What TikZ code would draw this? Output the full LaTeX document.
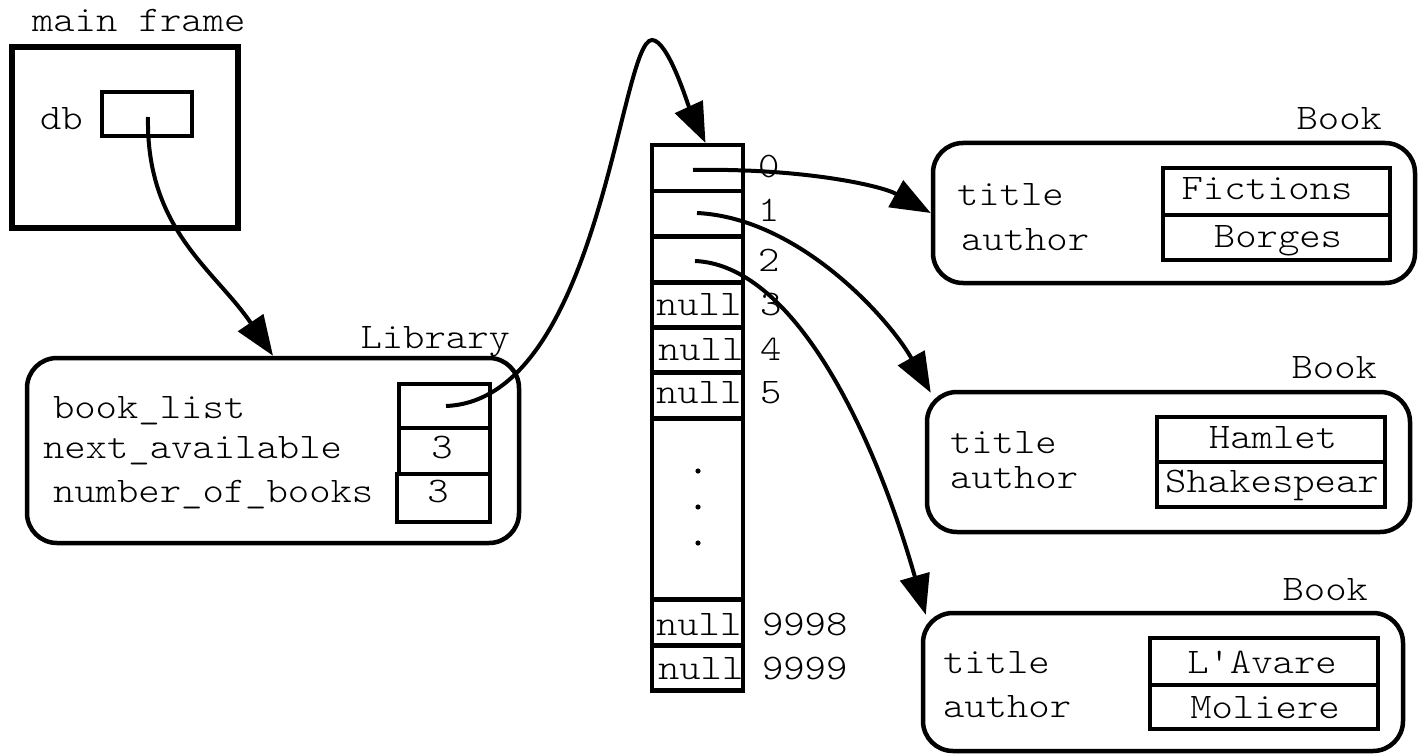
\documentclass[tikz,border=0pt]{standalone}
\usepackage{fontspec}
\newfontfamily\cour{lmmonolt10-regular}[Extension=.otf, FakeStretch=1.13]
\usetikzlibrary{arrows.meta,calc}
\begin{document}
\begin{tikzpicture}[x=1pt,y=-1pt,
  txt/.style={font=\cour\fontsize{36}{40}\selectfont, inner sep=0pt, outer sep=0pt},
  cell/.style={draw, line width=4.5pt, inner sep=0pt},
  arrcell/.style={draw, line width=4.5pt, inner sep=0pt, minimum width=91, anchor=north},
  obj/.style={draw, line width=4.5pt, rounded corners=30, inner sep=0pt},
  ptr/.style={line width=4pt, -{Triangle[length=40pt,width=30pt]}}
]
\useasboundingbox (0,0) rectangle (1418,754);

% main frame
\node[txt, anchor=base west] (mftxt) at (32,32) {main frame};
\node[draw, line width=5.5pt, minimum width=226, minimum height=181, inner sep=0pt] (frame) at (125,137.5) {};
\node[txt, anchor=base west] (dbtxt) at (40,130) {db};
\node[cell, minimum width=90, minimum height=44] (db) at (147,114) {};
\coordinate (dbp) at (148,117);

% Library
\node[txt, anchor=base east] (libtxt) at (510,348) {Library};
\node[obj, minimum width=492, minimum height=185] (lib) at (273,450.5) {};
\node[cell, minimum width=91, minimum height=44] (bl) at (444.5,406) {};
\node[cell, minimum width=91, minimum height=46] (na) at (444.5,451) {};
\node[cell, minimum width=93, minimum height=48] (nb) at (443.5,498) {};
\node[txt, anchor=base west] (bltxt) at (53,418) {book\_list};
\node[txt, anchor=base west] (natxt) at (43,458) {next\_available};
\node[txt, anchor=base west] (nbtxt) at (53,502) {number\_of\_books};
\node[txt, anchor=base] (naval) at (442,458) {3};
\node[txt, anchor=base] (nbval) at (438,502) {3};
\coordinate (blp) at (446,406);

% array
\node[arrcell, minimum height=46] (r0) at (697.5,143) {};
\node[arrcell, minimum height=45] (r1) at (697.5,189) {};
\node[arrcell, minimum height=46] (r2) at (697.5,234) {};
\node[arrcell, minimum height=45] (r3) at (697.5,280) {};
\node[arrcell, minimum height=45] (r4) at (697.5,325) {};
\node[arrcell, minimum height=46] (r5) at (697.5,370) {};
\node[arrcell, minimum height=181] (gap) at (697.5,416) {};
\node[arrcell, minimum height=46] (r9998) at (697.5,597) {};
\node[arrcell, minimum height=45] (r9999) at (697.5,643) {};
\foreach \yy in {471,507,543} \fill (698,\yy) circle (2.6);
\node[txt, anchor=base west] (n3) at (656,315) {null};
\node[txt, anchor=base west] (n4) at (658,360) {null};
\node[txt, anchor=base west] (n5) at (656,403) {null};
\node[txt, anchor=base west] (n9998) at (656,635) {null};
\node[txt, anchor=base west] (n9999) at (658,679) {null};
\node[txt, anchor=base west] (i0) at (758,178) {0};
\node[txt, anchor=base west] (i1) at (758,222) {1};
\node[txt, anchor=base west] (i2) at (758,271) {2};
\node[txt, anchor=base west] (i3) at (760,315) {3};
\node[txt, anchor=base west] (i4) at (760,360) {4};
\node[txt, anchor=base west] (i5) at (760,403) {5};
\node[txt, anchor=base west] (i9998) at (762,635) {9998};
\node[txt, anchor=base west] (i9999) at (762,679) {9999};
\coordinate (p0) at (693,170);
\coordinate (p1) at (697,213);
\coordinate (p2) at (695,261);

% Book 1
\node[txt, anchor=base east] (b1txt) at (1382,130) {Book};
\node[obj, minimum width=482, minimum height=140] (b1) at (1174,213) {};
\node[cell, minimum width=227, minimum height=47] (b1t) at (1276.5,191.5) {};
\node[cell, minimum width=227, minimum height=45] (b1a) at (1276.5,237.5) {};
\node[txt, anchor=base west] (b1tl) at (957,205) {title};
\node[txt, anchor=base west] (b1al) at (961,250) {author};
\node[txt, anchor=base] (b1tv) at (1267,200) {Fictions};
\node[txt, anchor=base] (b1av) at (1278,247) {Borges};

% Book 2
\node[txt, anchor=base east] (b2txt) at (1377,378) {Book};
\node[obj, minimum width=483, minimum height=140] (b2) at (1168.5,462) {};
\node[cell, minimum width=228, minimum height=45] (b2t) at (1271,439.5) {};
\node[cell, minimum width=228, minimum height=45] (b2a) at (1271,484.5) {};
\node[txt, anchor=base west] (b2tl) at (950,453) {title};
\node[txt, anchor=base west] (b2al) at (950,488) {author};
\node[txt, anchor=base] (b2tv) at (1273,448) {Hamlet};
\node[txt, anchor=base] (b2av) at (1272,492) {Shakespear};

% Book 3
\node[txt, anchor=base east] (b3txt) at (1368,600) {Book};
\node[obj, minimum width=480, minimum height=138] (b3) at (1163,682) {};
\node[cell, minimum width=228, minimum height=47] (b3t) at (1264,661.5) {};
\node[cell, minimum width=228, minimum height=44] (b3a) at (1264,707) {};
\node[txt, anchor=base west] (b3tl) at (943,673) {title};
\node[txt, anchor=base west] (b3al) at (943,717) {author};
\node[txt, anchor=base] (b3tv) at (1262,673) {L'Avare};
\node[txt, anchor=base] (b3av) at (1265,718) {Moliere};

% pointers
\draw[ptr] (dbp) .. controls (146,230) and (215,270) .. (lib.north);
\draw[ptr] (blp) .. controls (600,400) and (620,40) .. (652,40)
  .. controls (668,40) and (688,105) .. ([xshift=8pt]r0.north);
\draw[ptr] (p0) .. controls (800,168) and (880,185) .. (b1.west);
\draw[ptr] (p1) .. controls (800,218) and (890,320) .. ($(b2.north west)+(6,3)$);
\draw[ptr] (p2) .. controls (790,265) and (870,420) .. ($(b3.north west)+(5,4)$);
\end{tikzpicture}
\end{document}
